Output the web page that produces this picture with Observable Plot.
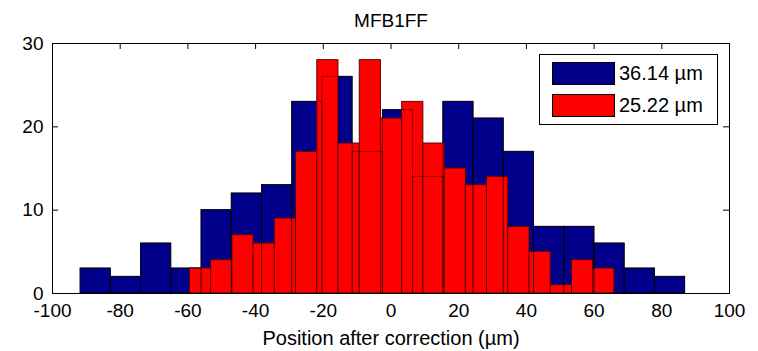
<!DOCTYPE html>
<html>
<head>
<meta charset="utf-8">
<script src="https://cdn.jsdelivr.net/npm/d3@7"></script>
<script src="https://cdn.jsdelivr.net/npm/@observablehq/plot@0.6"></script>
<style>
  body { margin: 0; background: #fff; }
  #wrap { position: relative; width: 758px; height: 351px; font-family: "Liberation Sans", Arial, sans-serif; }
  #legend { position: absolute; left: 539px; top: 54px; width: 179px; height: 71px; box-sizing: border-box; border: 1px solid #000; background: #fff; }
  .item { position: absolute; left: 12px; height: 24px; display: flex; align-items: center; font-size: 20px; color: #000; white-space: nowrap; }
  .sw { width: 63px; height: 23px; box-sizing: border-box; border: 1px solid #000; margin-right: 4px; }
</style>
</head>
<body>
<div id="wrap">
  <div id="chart"></div>
  <div id="legend"></div>
</div>
<script>
const title = "MFB1FF";
const xLabel = "Position after correction (µm)";
const seriesNames = ["36.14 µm", "25.22 µm"];
const seriesColors = ["#00008a", "#ff0000"];

const blueEdges = [-91.7, -82.77, -73.84, -64.91, -55.98, -47.05, -38.12, -29.19, -20.26, -11.33, -2.4, 6.53, 15.46, 24.39, 33.32, 42.25, 51.18, 60.11, 69.04, 77.97, 86.9];
const blueCounts = [3, 2, 6, 3, 10, 12, 13, 23, 26, 17, 22, 14, 23, 21, 17, 8, 8, 6, 3, 2];

const redEdges = [-59.4, -53.13, -46.86, -40.59, -34.32, -28.05, -21.78, -15.51, -9.24, -2.97, 3.3, 9.57, 15.84, 22.11, 28.38, 34.65, 40.92, 47.19, 53.46, 59.73, 66.0];
const redCounts = [3, 4, 7, 6, 9, 17, 28, 18, 28, 21, 23, 18, 15, 13, 14, 8, 5, 1, 4, 3];

const xTicks = [-100, -80, -60, -40, -20, 0, 20, 40, 60, 80, 100];
const yTicks = [0, 10, 20, 30];

const toBins = (edges, counts) => counts.map((c, i) => ({x1: edges[i], x2: edges[i + 1], count: c}));
const blueBins = toBins(blueEdges, blueCounts);
const redBins = toBins(redEdges, redCounts);

const font = "'Liberation Sans', Arial, sans-serif";

const chart = Plot.plot({
  width: 758,
  height: 351,
  marginLeft: 52,
  marginRight: 29,
  marginTop: 43,
  marginBottom: 58,
  x: {domain: [-100, 100]},
  y: {domain: [0, 30]},
  style: {fontFamily: font, fontSize: "19px", color: "#000", background: "#fff", overflow: "visible"},
  marks: [
    Plot.ruleX(xTicks, {x: d => d, y1: 0, y2: 0.72, stroke: "#000"}),
    Plot.ruleX(xTicks, {x: d => d, y1: 30, y2: 29.28, stroke: "#000"}),
    Plot.ruleY(yTicks, {y: d => d, x1: -100, x2: -98.23, stroke: "#000"}),
    Plot.ruleY(yTicks, {y: d => d, x1: 100, x2: 98.23, stroke: "#000"}),
    Plot.rectY(blueBins, {x1: "x1", x2: "x2", y: "count", fill: seriesColors[0], stroke: "#000", strokeWidth: 0.9}),
    Plot.rectY(redBins, {x1: "x1", x2: "x2", y: "count", fill: seriesColors[1], stroke: "#500000", strokeWidth: 0.9}),
    Plot.rectY(blueBins, {x1: "x1", x2: "x2", y: "count", fill: "none", stroke: "#000", strokeOpacity: 0.45, strokeWidth: 0.9}),
    Plot.frame({stroke: "#000"}),
    Plot.axisX(xTicks, {tickSize: 0, tickPadding: 10, fontSize: 19, label: null, tickFormat: d => String(d)}),
    Plot.axisY(yTicks, {tickSize: 0, tickPadding: 9, fontSize: 19, label: null, tickFormat: d => String(d)}),
    Plot.text([title], {frameAnchor: "top", lineAnchor: "top", dy: -30, fontSize: 19, text: d => d}),
    Plot.text([xLabel], {frameAnchor: "bottom", lineAnchor: "top", dy: 37, fontSize: 20, text: d => d})
  ]
});
document.getElementById("chart").appendChild(chart);

const legend = document.getElementById("legend");
seriesNames.forEach((name, i) => {
  const item = document.createElement("div");
  item.className = "item";
  item.style.top = (i === 0 ? 6 : 38) + "px";
  const sw = document.createElement("div");
  sw.className = "sw";
  sw.style.background = seriesColors[i];
  const label = document.createElement("span");
  label.textContent = name;
  item.appendChild(sw);
  item.appendChild(label);
  legend.appendChild(item);
});
</script>
</body>
</html>
